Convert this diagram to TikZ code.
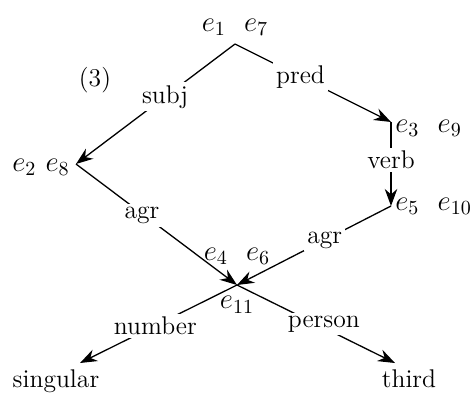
\documentclass[tikz,border=0pt]{standalone}
\usetikzlibrary{positioning, quotes, arrows.meta}
\tikzset{
  every edge quotes/.style = {fill = white, inner sep = 1.5pt},
  > = {Stealth[length = 3mm, width = 2.2mm]},
  feature/.style = {->, line width = 0.65pt},
  index/.style = {inner sep = 1pt, font = \fontsize{14}{16}\selectfont},
  value/.style = {inner sep = 1pt}
}
\begin{document}
\begin{tikzpicture}[x = 0.5pt, y = -0.5pt, font = \fontsize{12.8}{14}\selectfont]
\useasboundingbox (0,0) rectangle (474,396);

%% Vertices
\coordinate (root) at (235,44);
\coordinate (subj) at (76,164);
\coordinate (pred) at (391,122);
\coordinate (verb) at (391,206);
\coordinate (agr)  at (237,285);
\coordinate (num)  at (80,363);
\coordinate (pers) at (395,363);

%% Indices
\node [index] (i17) [above = 3pt of root] {$e_1\ \ e_7$};
\node [index] (i28) [left = 2pt of subj, yshift = -1.5pt] {$e_2\ e_8$};
\node [index] (i39) [right = 1pt of pred, yshift = -3pt] {$e_3\ \ e_9$};
\node [index] (i510) [right = 1pt of verb] {$e_5\ \ e_{10}$};
\node [index] (i46) [above = 9pt of agr] {$e_4\ \ e_6$};
\node [index] (i11) [below = 4.5pt of agr] {$e_{11}$};
\node (ex) at (95,80) {(3)};

%% Features
\path [feature] (root) edge ["subj" pos = 0.44] (subj)
                (root) edge ["pred" pos = 0.42] (pred)
                (pred) edge ["verb" pos = 0.45] (verb)
                (subj) edge ["agr" {pos = 0.41, yshift = -1pt}] (agr)
                (verb) edge ["agr" pos = 0.43] (agr)
                (agr)  edge ["number" pos = 0.52] (num)
                (agr)  edge ["person" {pos = 0.55, yshift = 2pt}] (pers);

%% Values
\node [value] (sing) [below = 2pt of num, xshift = -12pt] {singular};
\node [value] (third) [below = 2pt of pers, xshift = 7pt] {third};

\end{tikzpicture}
\end{document}
